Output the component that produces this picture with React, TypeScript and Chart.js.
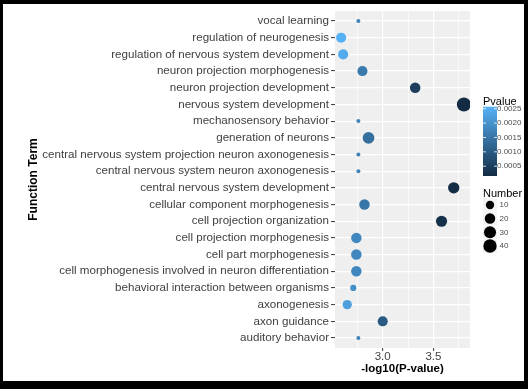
import React, { useEffect, useRef } from "react";
import { Chart, registerables } from "chart.js";

Chart.register(...registerables);

// ---- data ----
const terms: string[] = [
  "vocal learning",
  "regulation of neurogenesis",
  "regulation of nervous system development",
  "neuron projection morphogenesis",
  "neuron projection development",
  "nervous system development",
  "mechanosensory behavior",
  "generation of neurons",
  "central nervous system projection neuron axonogenesis",
  "central nervous system neuron axonogenesis",
  "central nervous system development",
  "cellular component morphogenesis",
  "cell projection organization",
  "cell projection morphogenesis",
  "cell part morphogenesis",
  "cell morphogenesis involved in neuron differentiation",
  "behavioral interaction between organisms",
  "axonogenesis",
  "axon guidance",
  "auditory behavior",
];

const negLog10P: number[] = [
  2.76, 2.59, 2.61, 2.8, 3.32, 3.8, 2.76, 2.86, 2.76, 2.76,
  3.7, 2.82, 3.58, 2.74, 2.74, 2.74, 2.71, 2.65, 3.0, 2.76,
];

const geneNumbers: number[] = [
  2, 18, 18, 18, 20, 45, 2, 28, 2, 2,
  25, 20, 24, 20, 20, 20, 4, 14, 18, 2,
];

const xGridTicks: number[] = [2.75, 3.0, 3.25, 3.5, 3.75];
const xLabelTicks: number[] = [3.0, 3.5];
const pvalueLegendTicks: number[] = [0.0005, 0.001, 0.0015, 0.002, 0.0025];
const numberLegendTicks: number[] = [10, 20, 30, 40];

// ---- derived scales ----
const pvals = negLog10P.map((v) => Math.pow(10, -v));
const pMin = Math.min(...pvals);
const pMax = Math.max(...pvals);
const nMin = Math.min(...geneNumbers);
const nMax = Math.max(...geneNumbers);
const xMinData = Math.min(...negLog10P);
const xMaxData = Math.max(...negLog10P);
const xPad = (xMaxData - xMinData) * 0.05;

const LOW = [19, 43, 67];
const HIGH = [86, 177, 247];

function colorFor(p: number): string {
  const t = Math.max(0, Math.min(1, (p - pMin) / (pMax - pMin)));
  const c = LOW.map((l, i) => Math.round(l + (HIGH[i] - l) * t));
  return `rgb(${c[0]},${c[1]},${c[2]})`;
}

function radiusFor(n: number): number {
  return 2 + 5 * Math.sqrt(Math.max(0, n - nMin) / (nMax - nMin));
}

const FONT = "'Liberation Sans', Arial, Helvetica, sans-serif";

const legendPlugin = {
  id: "ggLegends",
  afterDraw(chart: any) {
    const ctx = chart.ctx as CanvasRenderingContext2D;
    ctx.save();
    // Colorbar
    const bx = 480, bw = 14, btop = 102.7, bbottom = 172;
    const grad = ctx.createLinearGradient(0, bbottom, 0, btop);
    for (let i = 0; i <= 20; i++) {
      const t = i / 20;
      grad.addColorStop(t, colorFor(pMin + (pMax - pMin) * t));
    }
    ctx.fillStyle = grad;
    ctx.fillRect(bx, btop, bw, bbottom - btop);
    const pToY = (p: number) => bbottom - ((p - pMin) / (pMax - pMin)) * (bbottom - btop);
    ctx.strokeStyle = "#ffffff";
    ctx.lineWidth = 0.8;
    ctx.font = `8px ${FONT}`;
    ctx.fillStyle = "#4d4d4d";
    ctx.textBaseline = "middle";
    ctx.textAlign = "left";
    pvalueLegendTicks.forEach((p) => {
      const y = pToY(p);
      ctx.beginPath();
      ctx.moveTo(bx, y);
      ctx.lineTo(bx + 3, y);
      ctx.moveTo(bx + bw - 3, y);
      ctx.lineTo(bx + bw, y);
      ctx.stroke();
      ctx.fillText(p.toFixed(4), bx + bw, y);
    });
    // Colorbar title
    ctx.fillStyle = "#000000";
    ctx.font = `11px ${FONT}`;
    ctx.textBaseline = "alphabetic";
    ctx.fillText("Pvalue", 480, 100.5);

    // Size legend
    ctx.fillText("Number", 480, 193);
    const keyY = [201, 214.5, 228.3, 242];
    numberLegendTicks.forEach((n, i) => {
      const cy = keyY[i];
      ctx.fillStyle = "#f4f4f4";
      ctx.fillRect(480, cy - 6.5, 14, 13);
      ctx.fillStyle = "#000000";
      ctx.beginPath();
      ctx.arc(487, cy, radiusFor(n), 0, Math.PI * 2);
      ctx.fill();
      ctx.fillStyle = "#4d4d4d";
      ctx.font = `8px ${FONT}`;
      ctx.textBaseline = "middle";
      ctx.fillText(String(n), 496.5, cy);
      ctx.font = `11px ${FONT}`;
      ctx.textBaseline = "alphabetic";
    });
    ctx.restore();
  },
};

const panelBgPlugin = {
  id: "panelBg",
  beforeDraw(chart: any) {
    const { ctx, chartArea } = chart;
    ctx.save();
    ctx.fillStyle = "#efefef";
    ctx.fillRect(chartArea.left, chartArea.top, chartArea.right - chartArea.left, chartArea.bottom - chartArea.top);
    ctx.restore();
  },
};

export default function App() {
  const canvasRef = useRef<HTMLCanvasElement | null>(null);

  useEffect(() => {
    if (!canvasRef.current) return;
    const chart = new Chart(canvasRef.current, {
      type: "scatter",
      data: {
        datasets: [
          {
            data: terms.map((_, i) => ({ x: negLog10P[i], y: i })),
            pointRadius: geneNumbers.map(radiusFor),
            pointHoverRadius: geneNumbers.map(radiusFor),
            backgroundColor: pvals.map(colorFor),
            borderWidth: 0,
          },
        ],
      },
      options: {
        responsive: false,
        animation: false,
        devicePixelRatio: 1,
        layout: { padding: { left: 0, right: 54, top: 1, bottom: 0 } },
        plugins: { legend: { display: false }, tooltip: { enabled: false } },
        scales: {
          x: {
            type: "linear",
            min: xMinData - xPad,
            max: xMaxData + xPad,
            afterBuildTicks: (s: any) => {
              s.ticks = xGridTicks.map((v) => ({ value: v }));
            },
            afterFit: (s: any) => {
              s.height = 33;
              s.paddingLeft = 0;
              s.paddingRight = 0;
            },
            border: { display: false },
            grid: {
              color: "#ffffff",
              lineWidth: (c: any) => (xLabelTicks.includes(c.tick?.value) ? 1.2 : 0.6),
              tickColor: (c: any) => (xLabelTicks.includes(c.tick?.value) ? "#333333" : "rgba(0,0,0,0)"),
              tickLength: 3,
              tickWidth: 1,
            },
            ticks: {
              autoSkip: false,
              maxRotation: 0,
              padding: -1,
              color: "#404040",
              font: { family: FONT, size: 11.5 },
              callback: (v: any) => (xLabelTicks.includes(Number(v)) ? Number(v).toFixed(1) : ""),
            },
            title: {
              display: true,
              text: "-log10(P-value)",
              color: "#000000",
              font: { family: FONT, size: 11.5, weight: "bold" },
              padding: { top: 0, bottom: 5 },
            },
          },
          y: {
            type: "linear",
            reverse: true,
            min: -0.6,
            max: terms.length - 1 + 0.6,
            afterBuildTicks: (s: any) => {
              s.ticks = terms.map((_, i) => ({ value: i }));
            },
            afterFit: (s: any) => {
              s.width = 332;
              s.paddingTop = 0;
              s.paddingBottom = 0;
            },
            border: { display: false },
            grid: {
              color: "#ffffff",
              lineWidth: 1.2,
              tickColor: "#333333",
              tickLength: 4,
              tickWidth: 1,
            },
            ticks: {
              autoSkip: false,
              padding: 2,
              color: "#404040",
              font: { family: FONT, size: 11.6 },
              callback: (v: any) => terms[Number(v)] ?? "",
            },
            title: {
              display: true,
              text: "Function Term",
              color: "#000000",
              font: { family: FONT, size: 12, weight: "bold" },
              padding: { top: 23, bottom: 0 },
            },
          },
        },
      },
      plugins: [panelBgPlugin, legendPlugin],
    } as any);
    return () => chart.destroy();
  }, []);

  return (
    <div
      style={{
        position: "fixed",
        left: 0,
        top: 0,
        width: 528,
        height: 389,
        boxSizing: "border-box",
        background: "#ffffff",
        borderStyle: "solid",
        borderColor: "#000000",
        borderWidth: "4px 4px 8px 3px",
      }}
    >
      <canvas ref={canvasRef} width={521} height={377} style={{ display: "block", width: 521, height: 377 }} />
    </div>
  );
}
